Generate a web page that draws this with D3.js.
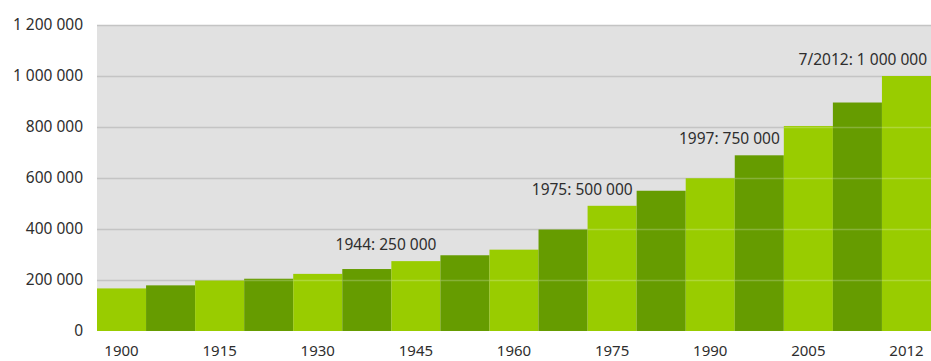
<!DOCTYPE html>
<html>
<head>
<meta charset="utf-8">
<script src="https://cdn.jsdelivr.net/npm/d3@7"></script>
<style>
  body { margin: 0; background: #fff; }
  svg text { font-family: "Noto Sans", "Open Sans", sans-serif; fill: #2e2e2e; }
</style>
</head>
<body>
<svg id="chart" width="931" height="361"></svg>
<script>
// labels under every second bar
const tickLabels = ["1900", "", "1915", "", "1930", "", "1945", "", "1960", "", "1975", "", "1990", "", "2005", "", "2012"];
const values = [167000, 179000, 198000, 205000, 224000, 243000, 274000, 297000, 319000, 398000, 491000, 550000, 599000, 689000, 804000, 896000, 1000000];
const yTicks = [0, 200000, 400000, 600000, 800000, 1000000, 1200000];
const noteTexts = ["1944: 250 000", "1975: 500 000", "1997: 750 000", "7/2012: 1 000 000"];
const noteBars = [6, 10, 13, 16];

const svg = d3.select("#chart");
const margin = { top: 25, right: 0, bottom: 30, left: 97 };
const width = +svg.attr("width");
const height = +svg.attr("height");

const fmt = d3.formatLocale({ decimal: ",", thousands: " ", grouping: [3], currency: ["", ""] }).format(",d");

const x = d3.scaleBand()
  .domain(d3.range(values.length))
  .range([margin.left, width - margin.right])
  .padding(0);

const y = d3.scaleLinear()
  .domain([0, 1200000])
  .range([height - margin.bottom, margin.top]);

// grey plot area
svg.append("rect")
  .attr("x", margin.left)
  .attr("y", y(1200000))
  .attr("width", width - margin.right - margin.left)
  .attr("height", y(0) - y(1200000))
  .attr("fill", "#e1e1e1");

// gridlines behind the bars
svg.append("g")
  .selectAll("line")
  .data(yTicks.filter(d => d > 0))
  .enter().append("line")
  .attr("x1", margin.left)
  .attr("x2", width - margin.right)
  .attr("y1", d => y(d) + 0.5)
  .attr("y2", d => y(d) + 0.5)
  .attr("stroke", "#c4c4c4")
  .attr("stroke-width", 1.5);

const bars = svg.append("g")
  .selectAll("g")
  .data(values)
  .enter().append("g");

bars.append("rect")
  .attr("x", (d, i) => x(i))
  .attr("y", d => y(d))
  .attr("width", x.bandwidth())
  .attr("height", d => y(0) - y(d))
  .attr("fill", (d, i) => i % 2 ? "#669c00" : "#99cc00");

// lighter gridlines showing through the bars
bars.each(function(v, i) {
  d3.select(this).selectAll("line")
    .data(yTicks.filter(t => t > 0 && t < v))
    .enter().append("line")
    .attr("x1", x(i))
    .attr("x2", x(i) + x.bandwidth())
    .attr("y1", t => y(t) + 0.5)
    .attr("y2", t => y(t) + 0.5)
    .attr("stroke", "#fff")
    .attr("stroke-opacity", 0.22)
    .attr("stroke-width", 1.5);
});

// y axis labels
svg.append("g")
  .attr("transform", `translate(${margin.left - 14},0)`)
  .call(d3.axisLeft(y).tickValues(yTicks).tickFormat(fmt).tickSize(0).tickPadding(0))
  .call(g => g.select(".domain").remove())
  .selectAll("text")
  .attr("font-size", 15.5)
  .attr("dy", "0.3em");

// x axis labels
svg.append("g")
  .attr("transform", `translate(0,${y(0)})`)
  .call(d3.axisBottom(x).tickFormat(i => tickLabels[i]).tickSize(0).tickPadding(0))
  .call(g => g.select(".domain").remove())
  .selectAll("text")
  .attr("font-size", 15)
  .attr("dy", 0)
  .attr("y", 25);

svg.selectAll(".tick text").style("font-family", "'Noto Sans', 'Open Sans', sans-serif").attr("fill", "#2e2e2e");

// milestone notes
svg.append("g")
  .selectAll("text")
  .data(noteTexts)
  .enter().append("text")
  .attr("x", (d, i) => x(noteBars[i]) + x.bandwidth() - 4)
  .attr("y", (d, i) => y(values[noteBars[i]]) - 11)
  .attr("text-anchor", "end")
  .attr("font-size", 15.5)
  .text(d => d);
</script>
</body>
</html>
